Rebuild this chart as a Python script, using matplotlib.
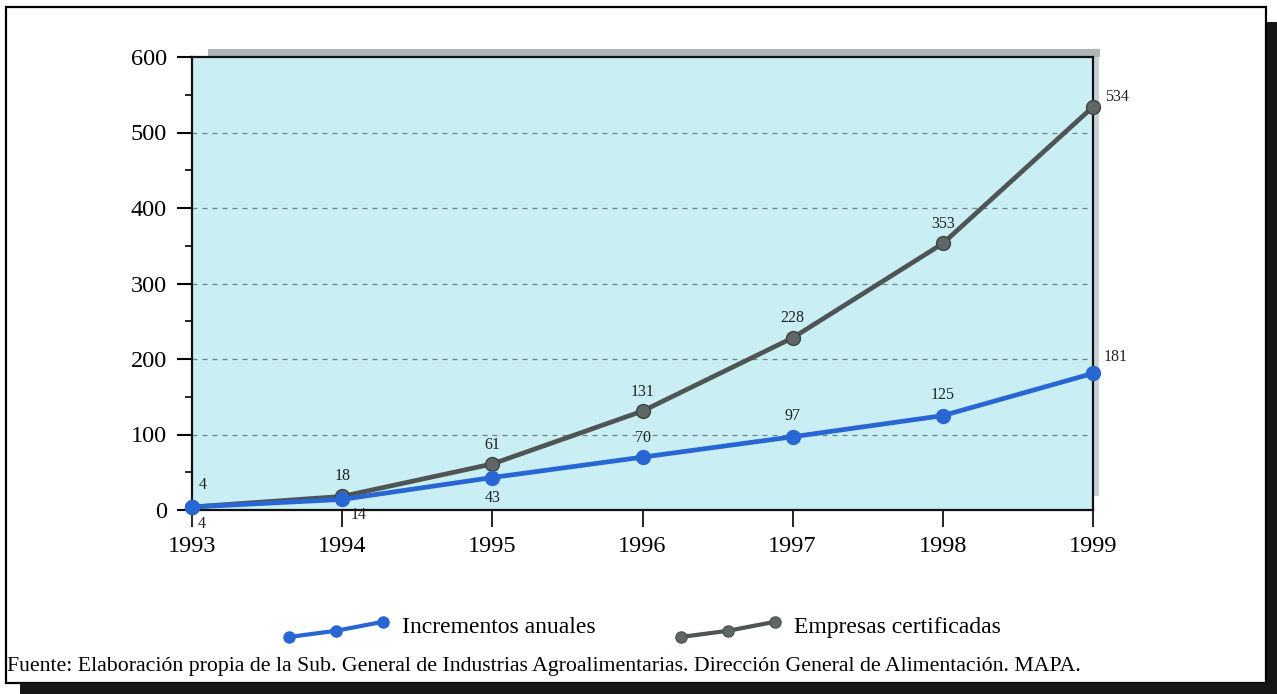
"""
Evolución de empresas certificadas (1993-1999).
"""

import matplotlib
matplotlib.use("Agg")
import matplotlib.pyplot as plt
from matplotlib.lines import Line2D
from matplotlib.patches import Rectangle

years = [1993, 1994, 1995, 1996, 1997, 1998, 1999]
incrementos = [4, 14, 43, 70, 97, 125, 181]
empresas = [4, 18, 61, 131, 228, 353, 534]

# label offsets in points (dx, dy)
off_inc = [(7, -12), (12, -11), (0, -15), (0, 14), (0, 15), (0, 15), (16, 12)]
off_emp = [(8, 16), (0, 15), (0, 14), (0, 14), (0, 14), (0, 14), (17, 7)]

BLUE = "#2866d4"
GRAY = "#4f5554"
BG = "#c9eef4"
FONT = "Liberation Serif"

W, H = 1277, 694
plt.rcParams["font.family"] = FONT


def fx(px):
    return px / W


def fy(py):
    return 1 - py / H


class SlopedHandler:
    def __init__(self, color, mfc):
        self.color = color
        self.mfc = mfc

    def legend_artist(self, legend, orig_handle, fontsize, handlebox):
        x0, y0 = -handlebox.xdescent, -handlebox.ydescent
        w, h = handlebox.width, handlebox.height
        c = y0 + h / 2
        xs = [x0, x0 + w / 2, x0 + w]
        ys = [c - 9, c - 4.5, c + 2]
        ln = Line2D(xs, ys, color=self.color, lw=3, marker="o", markersize=8,
                    markerfacecolor=self.mfc, markeredgecolor=self.color,
                    transform=handlebox.get_transform())
        handlebox.add_artist(ln)
        return ln


fig = plt.figure(figsize=(W / 100, H / 100), dpi=100)

# outer frame + drop shadow
fig.patches.append(Rectangle((fx(6), fy(683)), fx(1266) - fx(6), fy(7) - fy(683),
                             transform=fig.transFigure, fill=False, ec="black", lw=1.6))
fig.patches.append(Rectangle((fx(1267), 0), fx(10), fy(22), transform=fig.transFigure,
                             fc="#161616", ec="none"))
fig.patches.append(Rectangle((fx(20), 0), 1 - fx(20), 1 - fy(11), transform=fig.transFigure,
                             fc="#161616", ec="none"))

ax = fig.add_axes([fx(192), fy(510), fx(1093) - fx(192), fy(57) - fy(510)])
ax.set_facecolor(BG)

# 3d-ish grey edge on top and right of the plot area
ax.add_patch(Rectangle((0.018, 1.0), 0.99, 0.018, transform=ax.transAxes, clip_on=False,
                       fc="#8e979a", ec="none", alpha=0.7, zorder=0))
ax.add_patch(Rectangle((1.0, 0.03), 0.007, 0.97, transform=ax.transAxes, clip_on=False,
                       fc="#a9b1b4", ec="none", alpha=0.6, zorder=0))

ax.plot(years, empresas, color=GRAY, lw=3.4, marker="o", markersize=10,
        markerfacecolor="#5f6664", markeredgecolor="#3f4443", zorder=3,
        label="Empresas certificadas", clip_on=False)
ax.plot(years, incrementos, color=BLUE, lw=3.4, marker="o", markersize=10,
        markerfacecolor=BLUE, markeredgecolor=BLUE, zorder=4,
        label="Incrementos anuales", clip_on=False)

for x, v, (dx, dy) in zip(years, incrementos, off_inc):
    ax.annotate(str(v), (x, v), xytext=(dx, dy), textcoords="offset points",
                ha="center", va="center", fontsize=11.5, color="#222222")
for x, v, (dx, dy) in zip(years, empresas, off_emp):
    ax.annotate(str(v), (x, v), xytext=(dx, dy), textcoords="offset points",
                ha="center", va="center", fontsize=11.5, color="#222222")

ax.set_xlim(years[0], years[-1])
ax.set_ylim(0, 600)
ax.set_xticks(years)
ax.set_yticks(range(0, 601, 100))
ax.set_yticks(range(50, 600, 100), minor=True)
ax.tick_params(axis="y", which="major", length=11, width=1.5, labelsize=17.5, pad=7)
ax.tick_params(axis="y", which="minor", length=5, width=1.2)
ax.tick_params(axis="x", length=12, width=1.2, labelsize=17.5, pad=7)
for s in ax.spines.values():
    s.set_linewidth(1.6)
    s.set_color("#111111")

for yv in range(100, 600, 100):
    ax.axhline(yv, color="#6e8488", lw=0.9, ls=(0, (4, 4)), zorder=1)

handles = [Line2D([], [], color=BLUE), Line2D([], [], color=GRAY)]
fig.legend(handles, ["Incrementos anuales", "Empresas certificadas"],
           handler_map={handles[0]: SlopedHandler(BLUE, BLUE),
                        handles[1]: SlopedHandler(GRAY, "#5f6664")},
           loc="center", bbox_to_anchor=(fx(645), fy(627)), ncol=2, frameon=False,
           fontsize=17, handlelength=4, handletextpad=0.8, columnspacing=3.6)

fig.text(fx(7), fy(666), "Fuente: Elaboración propia de la Sub. General de Industrias "
         "Agroalimentarias. Dirección General de Alimentación. MAPA.",
         fontsize=15.7, ha="left", va="center")

fig.savefig("out.png", dpi=100)
